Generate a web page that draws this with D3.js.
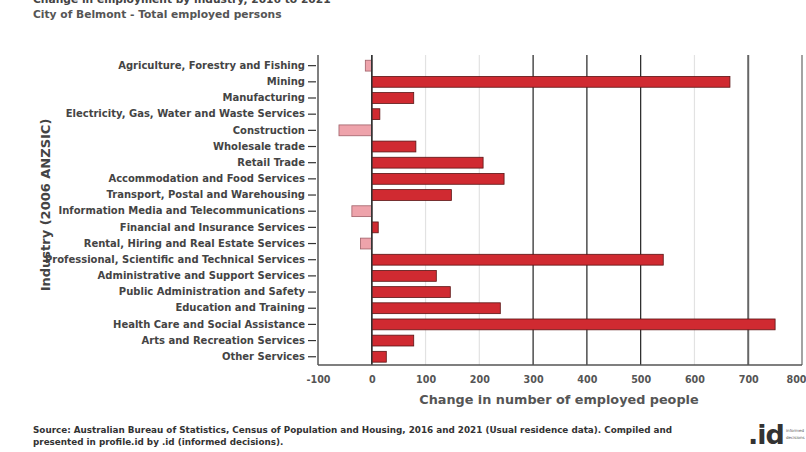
<!DOCTYPE html>
<html><head><meta charset="utf-8">
<script src="https://cdn.jsdelivr.net/npm/d3@7"></script>
<style>body{margin:0;background:#fff}svg{display:block}text{font-family:"DejaVu Sans",sans-serif}</style>
</head><body>
<svg id="c" width="806" height="452"></svg>
<script>
const categories = [
  "Agriculture, Forestry and Fishing","Mining","Manufacturing",
  "Electricity, Gas, Water and Waste Services","Construction","Wholesale trade",
  "Retail Trade","Accommodation and Food Services","Transport, Postal and Warehousing",
  "Information Media and Telecommunications","Financial and Insurance Services",
  "Rental, Hiring and Real Estate Services","Professional, Scientific and Technical Services",
  "Administrative and Support Services","Public Administration and Safety",
  "Education and Training","Health Care and Social Assistance",
  "Arts and Recreation Services","Other Services"];
const changeValues = [-12,666,78,15,-61,82,207,246,148,-37,12,-21,542,120,146,239,750,78,27];
const xTicks = [-100,0,100,200,300,400,500,600,700,800];
const titleText = "Change in employment by industry, 2016 to 2021";
const subtitleText = "City of Belmont - Total employed persons";
const xTitle = "Change in number of employed people";
const yTitle = "Industry (2006 ANZSIC)";
const sourceLines = ["Source: Australian Bureau of Statistics, Census of Population and Housing, 2016 and 2021 (Usual residence data). Compiled and",
  "presented in profile.id by .id (informed decisions)."];

const svg = d3.select("#c");
const L = 318, R = 802, T = 57, B = 365;
const x = d3.scaleLinear().domain([-100,800]).range([L,R]);
const y = d3.scaleBand().domain(categories).range([54.9,367.5]).paddingInner(0.33).paddingOuter(0.33);

// title
svg.append("text").attr("x",33).attr("y",3).attr("font-size",10.7).attr("font-weight","bold").attr("fill","#444").text(titleText);
svg.append("text").attr("x",33).attr("y",18).attr("font-size",10.7).attr("font-weight","bold").attr("fill","#555").text(subtitleText);

// grid
const light = new Set([100,200,600]);
svg.append("g").selectAll("line").data(xTicks.filter(d=>d>-100)).join("line")
  .attr("x1",d=>x(d)).attr("x2",d=>x(d)).attr("y1",T-2).attr("y2",B)
  .attr("stroke",d=>light.has(d)?"#e2e2e2":(d===700||d===800?"#666":"#222"))
  .attr("stroke-width",d=>d===700?2:1.2);

// bars
svg.append("g").selectAll("rect").data(categories).join("rect")
  .attr("x",(d,i)=>x(Math.min(0,changeValues[i])))
  .attr("width",(d,i)=>Math.abs(x(changeValues[i])-x(0)))
  .attr("y",d=>y(d)).attr("height",y.bandwidth())
  .attr("fill",(d,i)=>changeValues[i]<0?"#eea3ab":"#d02a31")
  .attr("stroke",(d,i)=>changeValues[i]<0?"#a06068":"#5a1414").attr("stroke-width",0.8);

// zero line & frame
svg.append("line").attr("x1",x(0)).attr("x2",x(0)).attr("y1",T-2).attr("y2",B).attr("stroke","#333").attr("stroke-width",1.5);
svg.append("line").attr("x1",L).attr("x2",L).attr("y1",T-2).attr("y2",B).attr("stroke","#555").attr("stroke-width",1.5);
svg.append("line").attr("x1",L).attr("x2",R).attr("y1",B).attr("y2",B).attr("stroke","#555").attr("stroke-width",1.5);

// y axis
const yAxis = svg.append("g").attr("transform",`translate(${L-2},0)`)
  .call(d3.axisLeft(y).tickSize(8).tickPadding(3));
yAxis.select(".domain").remove();
yAxis.selectAll(".tick line").attr("stroke","#333").attr("stroke-width",1.2);
yAxis.selectAll(".tick text").attr("font-size",10).attr("font-weight","bold").attr("fill","#444").attr("font-family","DejaVu Sans");

// x axis labels
const xAxis = svg.append("g").attr("transform",`translate(0,${B})`)
  .call(d3.axisBottom(x).tickValues(xTicks).tickFormat(d=>String(d)).tickSize(0).tickPadding(11));
xAxis.select(".domain").remove();
xAxis.selectAll(".tick text").attr("font-size",9.6).attr("font-weight","bold").attr("fill","#555").attr("font-family","DejaVu Sans")
  .filter(d=>d===800).attr("text-anchor","end").attr("dx",4);

svg.append("text").attr("x",559).attr("y",404).attr("text-anchor","middle").attr("font-size",12.8).attr("font-weight","bold").attr("fill","#555").text(xTitle);
svg.append("text").attr("transform","translate(50,205) rotate(-90)").attr("text-anchor","middle").attr("font-size",13).attr("font-weight","bold").attr("fill","#444").text(yTitle);

// source
svg.selectAll("text.src").data(sourceLines).join("text").attr("class","src")
  .attr("x",33).attr("y",(d,i)=>433+i*12).attr("font-size",8.8).attr("font-weight","bold").attr("fill","#333").text(d=>d);

// logo
svg.append("text").attr("x",748).attr("y",444).attr("font-size",27).attr("font-weight","bold").attr("fill","#333").attr("letter-spacing",-1).text(".id");
svg.selectAll("text.lg").data(["informed","decisions"]).join("text").attr("class","lg")
  .attr("x",786).attr("y",(d,i)=>432+i*7).attr("font-size",4).attr("fill","#555").text(d=>d);
</script>
</body></html>
